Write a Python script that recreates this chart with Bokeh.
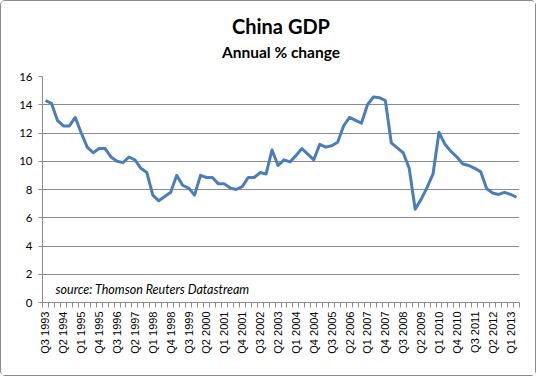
from bokeh.plotting import figure
from bokeh.models import Range1d, FixedTicker, Label, Title
from bokeh.embed import file_html
from bokeh.resources import INLINE

# Quarterly China GDP, annual % change, Q3 1993 .. Q2 2013
gdp = [14.3, 14.1, 12.9, 12.5, 12.5, 13.1, 12.0, 11.0, 10.6, 10.9,
       10.9, 10.3, 10.0, 9.9, 10.3, 10.1, 9.5, 9.2, 7.6, 7.2,
       7.5, 7.8, 9.0, 8.3, 8.1, 7.6, 9.0, 8.85, 8.85, 8.4,
       8.4, 8.1, 8.0, 8.2, 8.85, 8.85, 9.2, 9.1, 10.8, 9.7,
       10.1, 9.95, 10.4, 10.9, 10.5, 10.1, 11.2, 11.0, 11.1, 11.35,
       12.5, 13.1, 12.9, 12.7, 14.0, 14.55, 14.5, 14.3, 11.3, 10.95,
       10.6, 9.5, 6.6, 7.3, 8.15, 9.1, 12.05, 11.2, 10.7, 10.3,
       9.8, 9.7, 9.5, 9.25, 8.05, 7.75, 7.65, 7.8, 7.65, 7.45]

tick_labels = ["Q3 1993", "Q2 1994", "Q1 1995", "Q4 1995", "Q3 1996", "Q2 1997",
               "Q1 1998", "Q4 1998", "Q3 1999", "Q2 2000", "Q1 2001", "Q4 2001",
               "Q3 2002", "Q2 2003", "Q1 2004", "Q4 2004", "Q3 2005", "Q2 2006",
               "Q1 2007", "Q4 2007", "Q3 2008", "Q2 2009", "Q1 2010", "Q4 2010",
               "Q3 2011", "Q2 2012", "Q1 2013"]
y_ticks = [0, 2, 4, 6, 8, 10, 12, 14, 16]

title_text = "China GDP"
subtitle_text = "Annual % change"
source_text = "source: Thomson Reuters Datastream"

n = len(gdp)
xs = list(range(n))
label_every = 3
tick_pos = [i * label_every for i in range(len(tick_labels))]
boundaries = [i - 0.5 for i in range(n + 1)]

W, H = 534, 374
FL, FT, FW, FH = 41, 75, 477, 226
p = figure(width=W, height=H, output_backend="svg", toolbar_location=None,
           x_range=Range1d(-0.5, n - 0.5), y_range=Range1d(0, 16),
           frame_width=FW, frame_height=FH,
           min_border_left=FL, min_border_right=W - FL - FW, min_border_top=FT,
           min_border_bottom=H - FT - FH)
p.styles = {"border": "1px solid #8a8a8a", "border-radius": "5px"}

# spacer between the frame and the subtitle
p.add_layout(Title(text=" ", text_font_size="9px", standoff=2), "above")
p.add_layout(Title(text=subtitle_text, align="center", offset=4, text_font="Lato",
                   text_font_size="15.5px", text_font_style="bold", text_color="black",
                   standoff=4), "above")
p.add_layout(Title(text=title_text, align="center", offset=2, text_font="Lato",
                   text_font_size="20px", text_font_style="bold", text_color="black",
                   standoff=2), "above")

p.line(xs, gdp, line_color="#4A7EBB", line_width=3, line_join="round")

p.outline_line_color = None
p.xgrid.grid_line_color = None
p.ygrid.ticker = FixedTicker(ticks=y_ticks)
p.ygrid.grid_line_color = "#8c8c8c"
p.ygrid.grid_line_width = 1

p.yaxis.ticker = FixedTicker(ticks=y_ticks)
p.yaxis.axis_line_color = "#8c8c8c"
p.yaxis.major_tick_line_color = "#8c8c8c"
p.yaxis.major_tick_out = 4
p.yaxis.major_tick_in = 0
p.yaxis.minor_tick_line_color = None
p.yaxis.major_label_text_font = "Lato"
p.yaxis.major_label_text_font_size = "11.5px"
p.yaxis.major_label_text_color = "black"
p.yaxis.major_label_standoff = 6

p.xaxis.ticker = FixedTicker(ticks=tick_pos, minor_ticks=boundaries)
p.xaxis.major_label_overrides = {pos: lab for pos, lab in zip(tick_pos, tick_labels)}
p.xaxis.major_label_orientation = 3.14159265 / 2
p.xaxis.axis_line_color = "#8c8c8c"
p.xaxis.major_tick_line_color = None
p.xaxis.minor_tick_line_color = "#8c8c8c"
p.xaxis.minor_tick_out = 5
p.xaxis.minor_tick_in = 0
p.xaxis.major_label_text_font = "Liberation Sans"
p.xaxis.major_label_text_font_size = "11px"
p.xaxis.major_label_text_color = "black"
p.xaxis.major_label_standoff = 3

p.add_layout(Label(x=1.7, y=0.92, text=source_text, text_font="Lato", text_font_size="12.5px",
                   text_font_style="italic", text_color="black", text_baseline="middle"))

open("out.html", "w").write(file_html(p, INLINE))
